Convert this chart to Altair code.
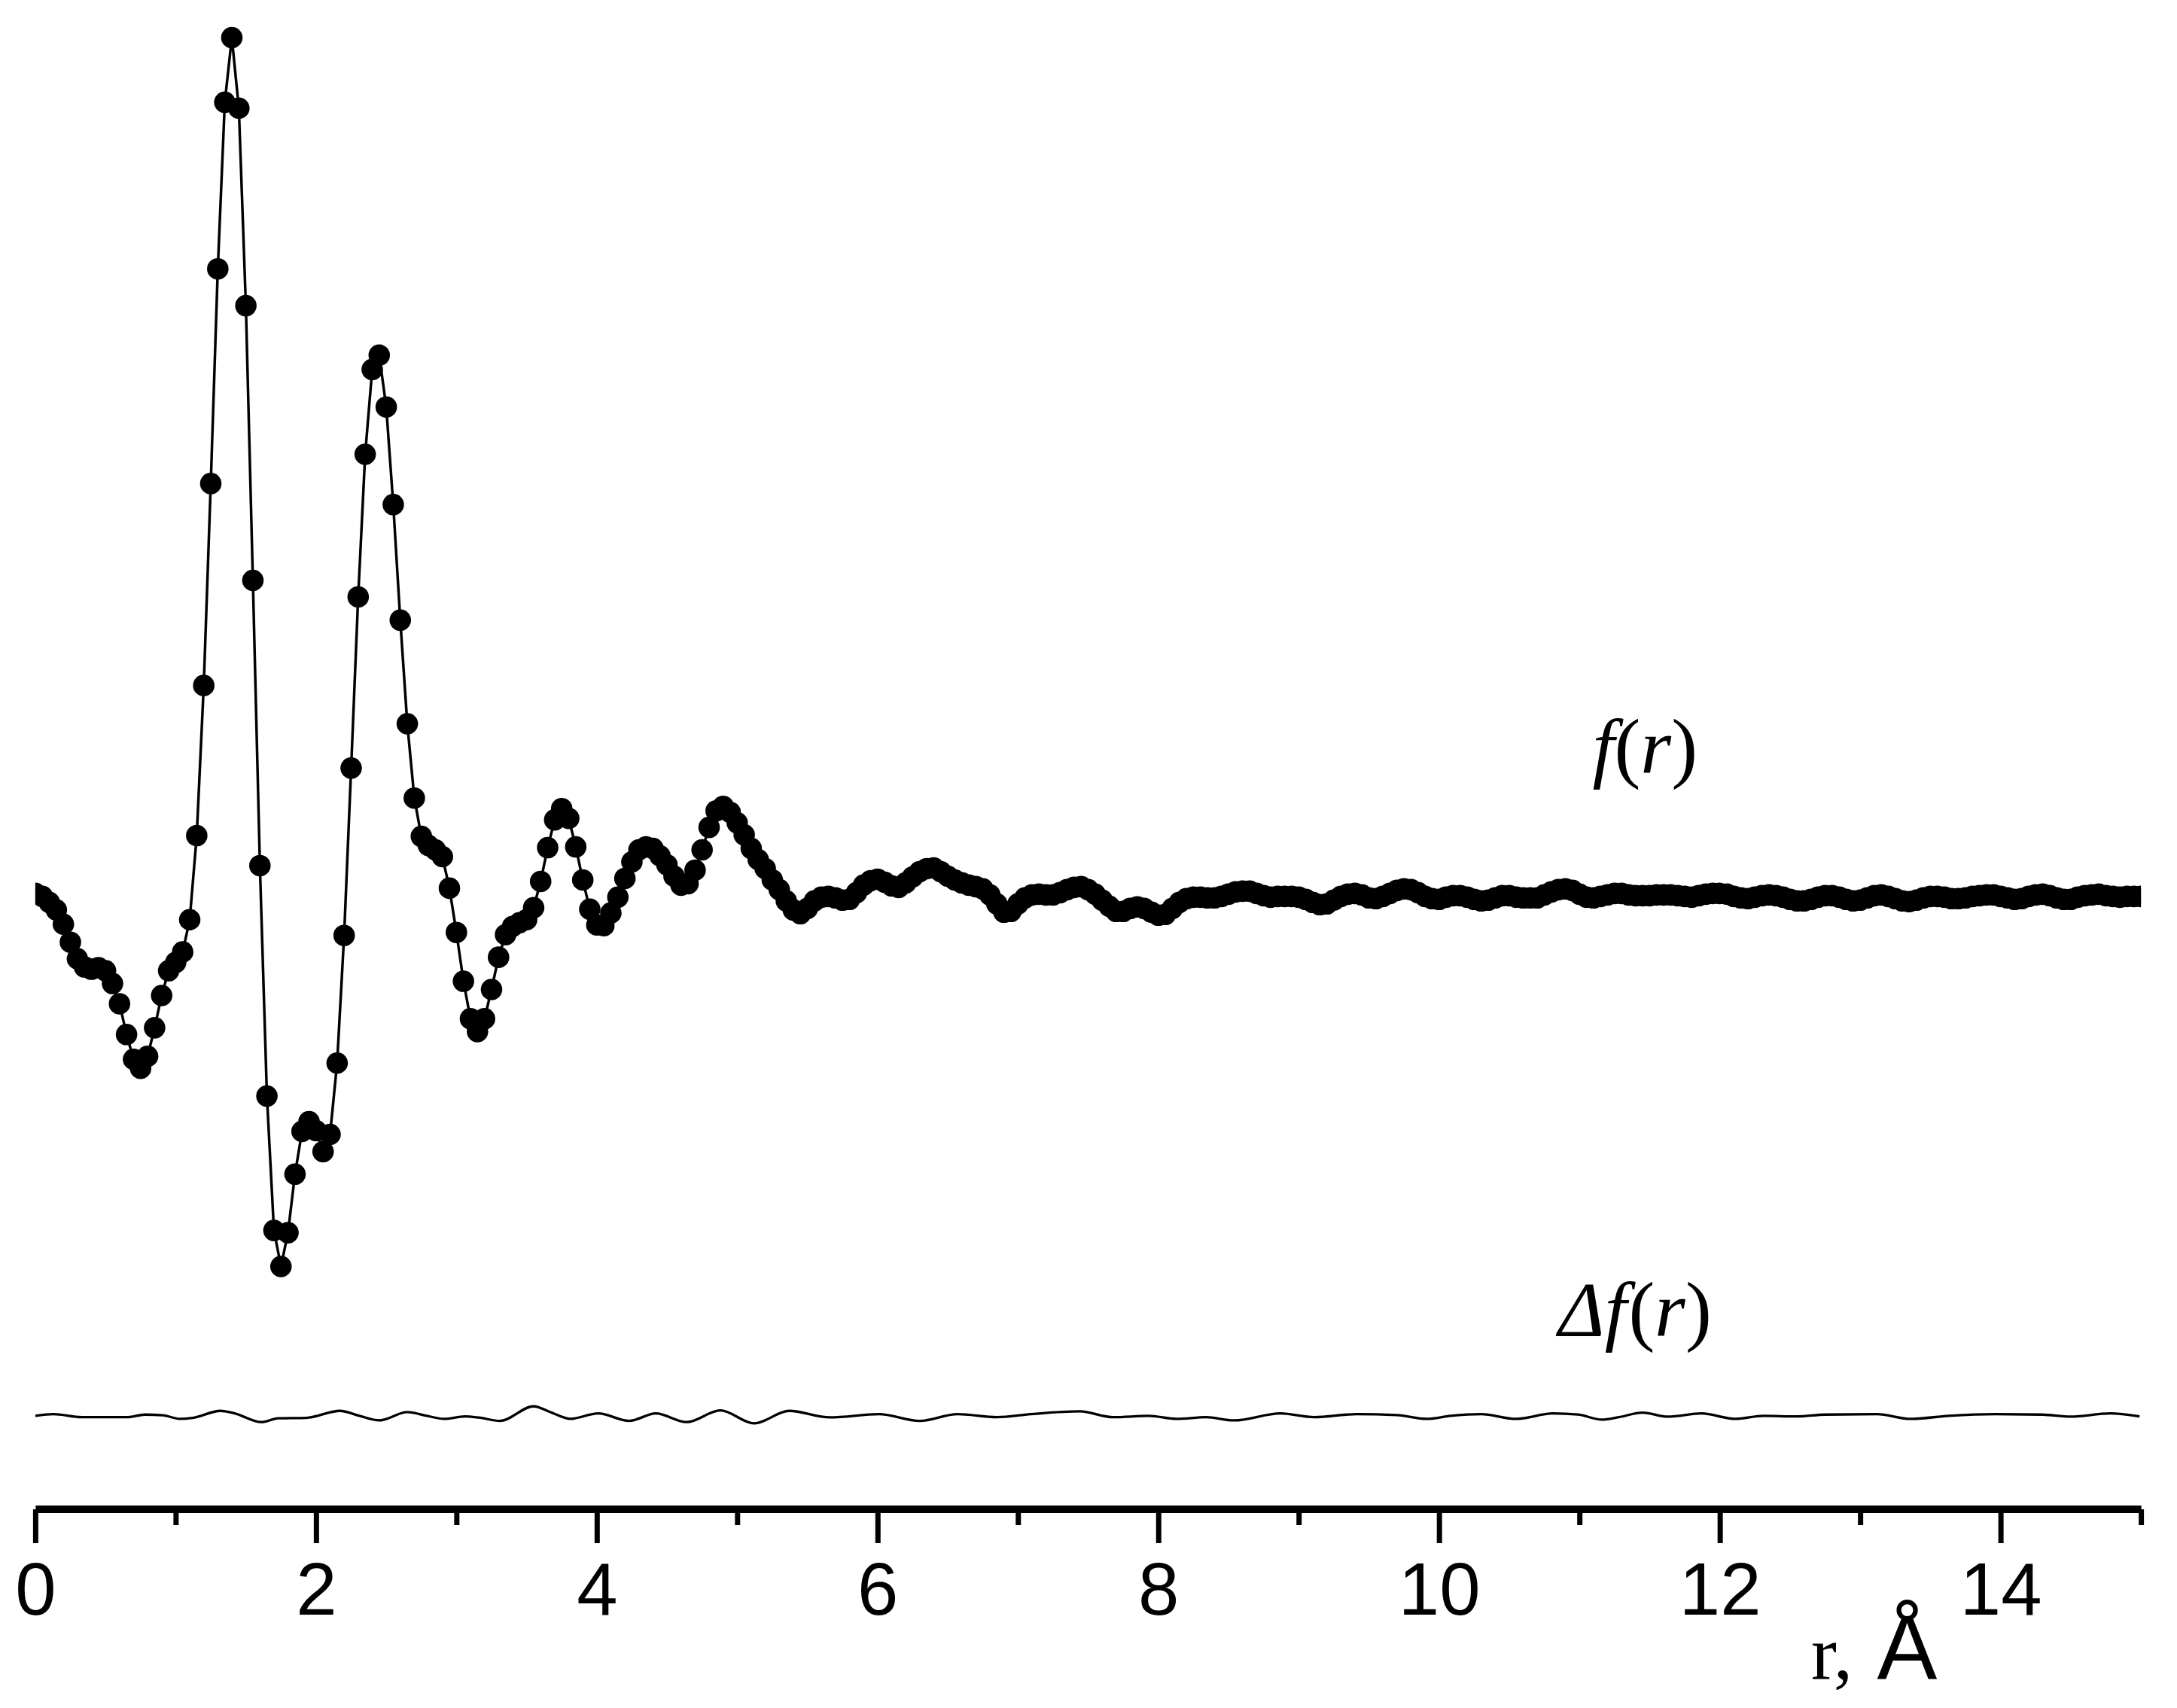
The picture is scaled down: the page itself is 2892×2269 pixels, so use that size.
import altair as alt
import pandas as pd

# ---------------- data ----------------
R_STEP = 0.05
F_VALUES = [
    0.02, -0.02, -0.10, -0.20, -0.39, -0.63, -0.85, -0.96, -0.99, -0.97, -1.01, -1.18, -1.45, -1.86, -2.19, -2.31, -2.15, -1.77, -1.34, -1.01,
    -0.90, -0.76, -0.33, 0.79, 2.79, 5.48, 8.34, 10.56, 11.42, 10.48, 7.85, 4.19, 0.39, -2.68, -4.47, -4.95, -4.50, -3.72, -3.15, -3.02,
    -3.14, -3.42, -3.19, -2.24, -0.54, 1.69, 3.97, 5.87, 7.00, 7.19, 6.50, 5.20, 3.66, 2.28, 1.29, 0.78, 0.66, 0.60, 0.51, 0.09,
    -0.50, -1.15, -1.65, -1.82, -1.65, -1.26, -0.83, -0.53, -0.42, -0.37, -0.33, -0.17, 0.18, 0.63, 1.00, 1.15, 1.02, 0.64, 0.20, -0.19,
    -0.40, -0.41, -0.24, -0.03, 0.22, 0.44, 0.60, 0.64, 0.62, 0.52, 0.40, 0.25, 0.13, 0.15, 0.33, 0.60, 0.90, 1.12, 1.18, 1.10,
    0.96, 0.80, 0.62, 0.47, 0.35, 0.20, 0.07, -0.08, -0.20, -0.25, -0.18, -0.08, -0.03, -0.02, -0.04, -0.07, -0.06, 0.03, 0.13, 0.19,
    0.21, 0.17, 0.12, 0.10, 0.16, 0.24, 0.31, 0.35, 0.36, 0.31, 0.25, 0.20, 0.16, 0.13, 0.11, 0.08, 0.00, -0.12, -0.23, -0.22,
    -0.12, -0.04, 0.00, 0.01, 0.00, 0.00, 0.03, 0.07, 0.10, 0.11, 0.07, 0.01, -0.07, -0.15, -0.22, -0.22, -0.18, -0.16, -0.18, -0.23,
    -0.27, -0.26, -0.18, -0.10, -0.05, -0.03, -0.03, -0.04, -0.04, -0.02, 0.01, 0.04, 0.05, 0.05, 0.02, -0.01, -0.03, -0.02, -0.02, -0.02,
    -0.03, -0.06, -0.10, -0.13, -0.12, -0.07, -0.02, 0.01, 0.02, 0.00, -0.04, -0.05, -0.02, 0.02, 0.06, 0.08, 0.07, 0.03, -0.02, -0.05,
    -0.06, -0.03, -0.01, -0.01, -0.03, -0.06, -0.08, -0.07, -0.04, -0.01, -0.01, -0.03, -0.04, -0.04, -0.04, 0.00, 0.04, 0.07, 0.08, 0.06,
    0.01, -0.03, -0.04, -0.02, 0.00, 0.02, 0.02, 0.00, -0.01, -0.01, -0.01, 0.00, 0.00, 0.00, -0.01, -0.02, -0.03, -0.01, 0.01, 0.02,
    0.02, 0.01, -0.02, -0.04, -0.05, -0.03, -0.01, 0.00, -0.01, -0.03, -0.06, -0.08, -0.08, -0.06, -0.03, -0.01, -0.01, -0.03, -0.06, -0.08,
    -0.07, -0.04, -0.01, 0.00, -0.02, -0.05, -0.08, -0.09, -0.07, -0.04, -0.02, -0.02, -0.03, -0.05, -0.05, -0.04, -0.02, -0.01, 0.00, 0.00,
    -0.02, -0.04, -0.06, -0.05, -0.02, 0.00, 0.01, -0.01, -0.04, -0.06, -0.06, -0.03, -0.01, 0.00, 0.01, -0.01, -0.02, -0.03, -0.02, -0.02,
    -0.02,
]
R_VALUES = [round(i * R_STEP, 2) for i in range(len(F_VALUES))]

DF_R = [0.00, 0.13, 0.33, 0.66, 0.78, 0.91, 1.03, 1.12, 1.32, 1.42, 1.61, 1.73, 1.93, 2.17, 2.31, 2.45,
        2.65, 2.79, 2.91, 3.06, 3.16, 3.31, 3.55, 3.67, 3.81, 4.01, 4.23, 4.42, 4.64, 4.88, 5.12, 5.37,
        5.66, 6.01, 6.30, 6.57, 6.85, 7.09, 7.44, 7.68, 7.93, 8.13, 8.34, 8.54, 8.87, 9.11, 9.41, 9.70,
        9.91, 10.08, 10.30, 10.55, 10.81, 10.99, 11.16, 11.28, 11.45, 11.63, 11.87, 12.11, 12.31, 12.55,
        12.75, 13.12, 13.36, 13.63, 13.96, 14.30, 14.50, 14.78, 14.99]
DF_VALUES = [0.0, 0.023, -0.017, -0.017, 0.017, 0.007, -0.04, -0.027, 0.067, 0.033, -0.083, -0.033, -0.027, 0.067, 0.0, -0.06,
             0.05, 0.0, -0.04, -0.007, -0.023, -0.067, 0.127, 0.05, -0.04, 0.033, -0.067, 0.033, -0.083, 0.073, -0.10, 0.067,
             -0.02, 0.023, -0.067, 0.023, -0.017, 0.023, 0.06, -0.017, 0.0, -0.04, -0.017, -0.06, 0.033, -0.017, 0.023, 0.01,
             -0.04, 0.0, 0.023, -0.04, 0.033, 0.017, -0.05, -0.017, 0.043, -0.01, 0.033, -0.04, 0.0, -0.007,
             0.017, 0.023, -0.04, 0.0, 0.023, 0.017, -0.01, 0.033, -0.007]
DF_OFFSET = -6.94          # vertical shift of the difference curve

X_TICKS = list(range(16))

f_df = pd.DataFrame({"r": R_VALUES, "f": F_VALUES})
d_df = pd.DataFrame({"r": DF_R, "d": DF_VALUES})

# ---------------- scales / axis ----------------
xscale = alt.Scale(domain=[0, 15], nice=False, zero=False)
yscale = alt.Scale(domain=[-8.18, 11.81], nice=False, zero=False)

NARROW = "Liberation Sans Narrow, Arial Narrow, Liberation Sans"

xaxis = alt.Axis(
    values=X_TICKS,
    format="d",
    labelExpr="datum.value % 2 === 0 ? datum.label : ''",
    title=None,
    grid=False,
    domainColor="black",
    domainWidth=10,
    tickColor="black",
    tickWidth=7,
    tickSize=45,
    # odd (minor) ticks: only the first part of the stroke is drawn
    tickDash={"condition": {"test": "datum.value % 2 === 0", "value": [200, 1]}, "value": [21, 400]},
    labelFont=NARROW,
    labelFontSize=98,
    labelColor="black",
    labelPadding=18,
    labelLimit=1000,
    labelFlush=False,
    labelOverlap=False,
)

x_enc = alt.X("r:Q", scale=xscale, axis=xaxis)

f_line = alt.Chart(f_df).mark_line(color="black", strokeWidth=3.5, clip=True).encode(
    x=x_enc, y=alt.Y("f:Q", scale=yscale, axis=None)
)
f_pts = alt.Chart(f_df).mark_circle(color="black", size=820, opacity=1, clip=True).encode(
    x=alt.X("r:Q", scale=xscale), y=alt.Y("f:Q", scale=yscale)
)
d_line = (
    alt.Chart(d_df)
    .transform_calculate(y=f"datum.d + ({DF_OFFSET})")
    .mark_line(color="black", strokeWidth=3.3, interpolate="monotone", clip=True)
    .encode(x=alt.X("r:Q", scale=xscale), y=alt.Y("y:Q", scale=yscale))
)

one = pd.DataFrame({"k": [0]})


def label(text, xr, yv, font, size, style="normal", align="left"):
    return alt.Chart(one).mark_text(
        text=text, font=font, fontSize=size, fontStyle=style, color="black",
        align=align, baseline="alphabetic"
    ).encode(x=alt.datum(xr, scale=xscale), y=alt.datum(yv, scale=yscale))


SERIF = "Liberation Serif"
# f(r): italic letters, upright parentheses
t_f = [
    label("f", 11.093, 1.62, SERIF, 105, "italic"),
    label("(", 11.248, 1.62, SERIF, 105),
    label("r", 11.435, 1.62, SERIF, 105, "italic"),
    label(")", 11.654, 1.62, SERIF, 105),
]
# Δf(r)
t_df = [
    label("Δf", 10.85, -5.88, SERIF, 105, "italic"),
    label("(", 11.35, -5.88, SERIF, 105),
    label("r", 11.535, -5.88, SERIF, 105, "italic"),
    label(")", 11.755, -5.88, SERIF, 105),
]
t_r = label("r,", 12.65, -10.44, SERIF, 102)
t_a = label("Å", 13.12, -10.44, NARROW, 120)

chart = (
    alt.layer(f_line, f_pts, d_line, *t_f, *t_df, t_r, t_a)
    .properties(
        width=2805,
        height=1999,
        autosize=alt.AutoSizeParams(type="none"),
        padding={"left": 39, "top": 0, "right": 40, "bottom": 260},
        background="white",
    )
    .configure_view(strokeWidth=0)
)

chart.save("out.html", embed_options={"renderer": "svg", "actions": False})
